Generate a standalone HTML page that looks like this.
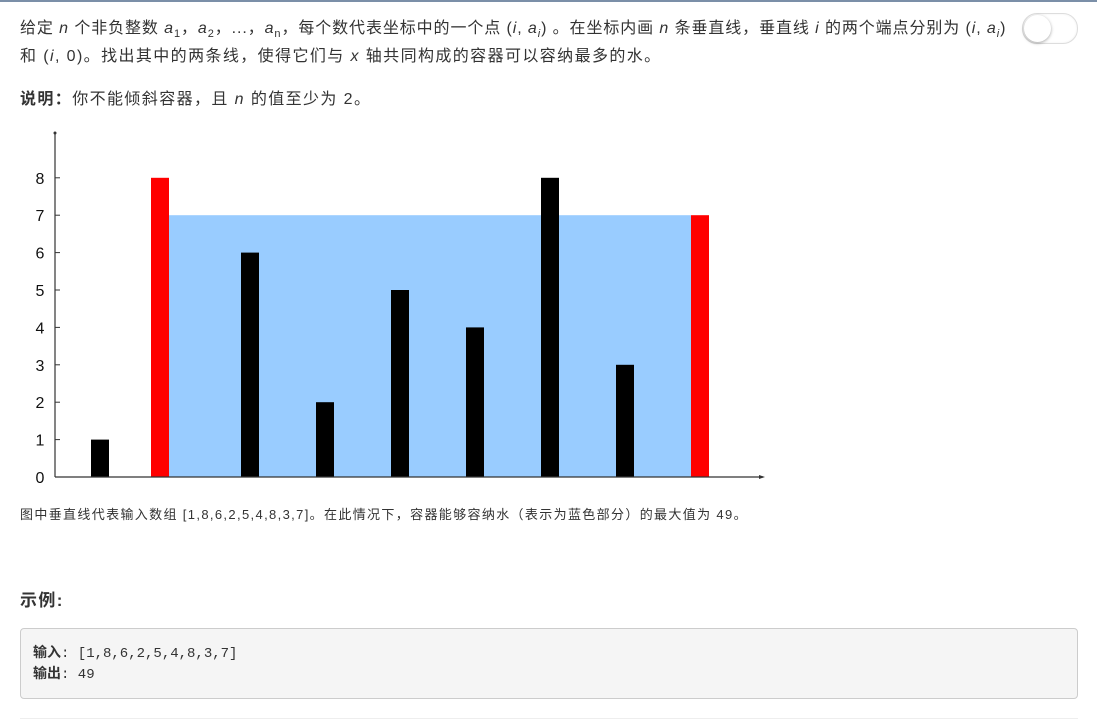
<!DOCTYPE html>
<html><head><meta charset="utf-8">
<style>
body{margin:0;width:1097px;height:723px;background:#fff;font-family:"Liberation Sans","Noto Sans CJK SC",sans-serif;color:#333;position:relative;overflow:hidden}
.topline{position:absolute;left:0;top:0;width:1097px;height:2px;background:#7b8fa8}
.p{position:absolute;left:20px;font-size:16px;line-height:28px;white-space:nowrap;letter-spacing:1.4px}
.toggle{position:absolute;left:1022px;top:13px;width:54px;height:29px;border:1px solid #ddd;border-radius:15px;background:#fff;box-shadow:inset 0 0 2px #eee}
.knob{position:absolute;left:1px;top:1px;width:27px;height:27px;border-radius:50%;background:#fff;box-shadow:0 1px 3px rgba(0,0,0,.35)}
.code{position:absolute;left:20px;top:628px;width:1058px;height:71px;background:#f5f5f5;border:1px solid #ccc;border-radius:4px;font-family:"Liberation Mono","Noto Sans CJK SC",monospace;font-size:14px;line-height:20px;box-sizing:border-box}
.code div{position:absolute;left:12px}
sub{font-size:11px}
</style></head><body>
<div class="topline"></div>
<div class="p" style="top:15px;letter-spacing:0.9px">给定 <i>n</i> 个非负整数 <i>a</i><sub>1</sub>，<i>a</i><sub>2</sub>，...，<i>a</i><sub>n</sub>，每个数代表坐标中的一个点 (<i>i</i>, <i>a<sub>i</sub></i>) 。在坐标内画 <i>n</i> 条垂直线，垂直线 <i>i</i> 的两个端点分别为 (<i>i</i>, <i>a<sub>i</sub></i>)</div>
<div class="p" style="top:43px">和 (<i>i</i>, 0)。找出其中的两条线，使得它们与 <i>x</i> 轴共同构成的容器可以容纳最多的水。</div>
<div class="p" style="top:86px"><b>说明：</b>你不能倾斜容器，且 <i>n</i> 的值至少为 2。</div>
<div class="toggle"><div class="knob"></div></div>
<svg id="chart" width="1097" height="723" style="position:absolute;left:0;top:0"></svg>
<div class="p" style="top:501px;font-size:13px;letter-spacing:1.35px">图中垂直线代表输入数组 [1,8,6,2,5,4,8,3,7]。在此情况下，容器能够容纳水（表示为蓝色部分）的最大值为 49。</div>
<div class="p" style="top:587px;font-weight:bold;font-size:17px">示例:</div>
<div class="code">
<div style="top:15px"><b>输入</b>: [1,8,6,2,5,4,8,3,7]</div>
<div style="top:36px"><b>输出</b>: 49</div>
</div>
<div style="position:absolute;left:20px;top:718px;width:1058px;height:1px;background:#eee"></div>
<script>
const heights=[1,8,6,2,5,4,8,3,7];
const highlighted=[1,8];
const waterLevel=7;
const yTicks=[0,1,2,3,4,5,6,7,8];
const NS="http://www.w3.org/2000/svg";
const svg=document.getElementById('chart');
const y0=477,unit=37.4,barW=18;
function yS(v){return y0-v*unit;}
function xS(i){return i===1?160:100+75*i;}
function mk(t,a){const e=document.createElementNS(NS,t);for(const k in a)e.setAttribute(k,a[k]);svg.appendChild(e);return e;}
const lx=xS(highlighted[0])+barW/2,rx=xS(highlighted[1])-barW/2;
const w=mk('rect',{x:lx,y:yS(waterLevel),width:rx-lx,height:y0-yS(waterLevel),fill:'#99ccff'});


heights.forEach((h,i)=>{
 const r=mk('rect',{x:xS(i)-barW/2,y:yS(h),width:barW,height:h*unit,fill:highlighted.includes(i)?'#ff0000':'#000'});
 
 
});
const ya=mk('line',{x1:55,y1:133,x2:55,y2:y0,stroke:'#333','stroke-width':1.2});


const xa=mk('line',{x1:55,y1:y0,x2:763,y2:y0,stroke:'#333','stroke-width':1.2});


const ar=mk('polygon',{points:'765,477 759,475 759,479',fill:'#333'});


const ar2=mk('circle',{cx:55,cy:133,r:1.5,fill:'#333'});


yTicks.forEach(t=>{
 const l=mk('line',{x1:55,y1:yS(t),x2:60,y2:yS(t),stroke:'#333'});
 
 
 const tx=mk('text',{x:40,y:yS(t)+6,'font-size':16,'text-anchor':'middle',fill:'#111','font-family':'Liberation Sans, sans-serif'});
 tx.textContent=t;
 
 
});
</script>
</body></html>
